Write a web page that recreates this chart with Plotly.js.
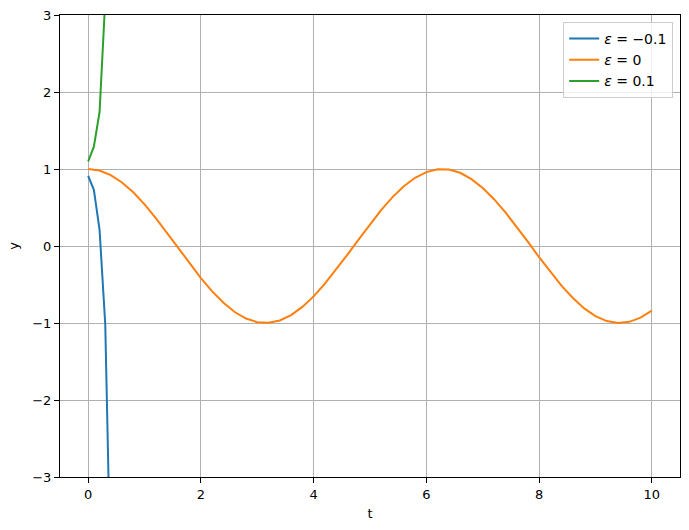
<!DOCTYPE html>
<html>
<head>
<meta charset="utf-8">
<script src="https://cdn.plot.ly/plotly-3.0.1.min.js"></script>
<style>html,body{margin:0;padding:0;background:#fff;}#plot{width:689px;height:530px;}</style>
</head>
<body>
<div id="plot"></div>
<script>
// Early time samples for the diverging solutions
const tShort = [0, 0.101, 0.202, 0.303, 0.404];
const yNeg = [0.91, 0.73, 0.21, -1.02, -4.5];
const yPos = [1.10, 1.29, 1.74, 3.2, 7.0];
// eps = 0 solution
const tMid = [0,0.2,0.4,0.6,0.8,1.0,1.2,1.4,1.6,1.8,2.0,2.2,2.4,2.6,2.8,3.0,3.2,3.4,3.6,3.8,4.0,4.2,4.4,4.6,4.8,5.0,5.2,5.4,5.6,5.8,6.0,6.2,6.4,6.6,6.8,7.0,7.2,7.4,7.6,7.8,8.0,8.2,8.4,8.6,8.8,9.0,9.2,9.4,9.6,9.8,10.0];
const yZero = [1.000,0.980,0.921,0.825,0.697,0.540,0.362,0.170,-0.029,-0.227,-0.416,-0.589,-0.737,-0.857,-0.942,-0.990,-0.998,-0.967,-0.897,-0.791,-0.654,-0.490,-0.307,-0.112,0.087,0.284,0.469,0.635,0.776,0.886,0.960,0.997,0.993,0.951,0.869,0.754,0.608,0.439,0.253,0.057,-0.146,-0.340,-0.519,-0.676,-0.811,-0.911,-0.975,-1.000,-0.985,-0.930,-0.839];
const names = ['<i>ε</i> = −0.1', '<i>ε</i> = 0', '<i>ε</i> = 0.1'];
const colors = ['#1f77b4', '#ff7f0e', '#2ca02c'];

const traces = [
  {x: tShort, y: yNeg, name: names[0], mode: 'lines', line: {color: colors[0], width: 2}},
  {x: tMid, y: yZero, name: names[1], mode: 'lines', line: {color: colors[1], width: 2}},
  {x: tShort, y: yPos, name: names[2], mode: 'lines', line: {color: colors[2], width: 2}}
];

const axisCommon = {
  showline: true, mirror: true, linecolor: '#000', linewidth: 1,
  ticks: 'outside', ticklen: 5, tickwidth: 1, tickcolor: '#000',
  showgrid: true, gridcolor: '#b0b0b0', gridwidth: 1,
  zeroline: false, tickfont: {size: 13, color: '#000'}
};

const layout = {
  width: 689, height: 530,
  margin: {l: 60, r: 9, t: 15, b: 53},
  paper_bgcolor: '#fff', plot_bgcolor: '#fff',
  font: {family: 'DejaVu Sans', size: 13, color: '#000'},
  xaxis: Object.assign({}, axisCommon, {
    range: [-0.5, 10.5], tickvals: [0, 2, 4, 6, 8, 10],
    title: {text: 't', font: {size: 13}, standoff: 8}
  }),
  yaxis: Object.assign({}, axisCommon, {
    range: [-3, 3], tickvals: [-3, -2, -1, 0, 1, 2, 3],
    ticktext: ['−3', '−2', '−1', '0', '1', '2', '3'],
    title: {text: 'y', font: {size: 13}, standoff: 10}
  }),
  showlegend: true,
  legend: {
    x: 0.989, y: 0.985, xanchor: 'right', yanchor: 'top',
    bgcolor: 'rgba(255,255,255,0.8)', bordercolor: '#cccccc', borderwidth: 1,
    font: {size: 14}, tracegroupgap: 0
  }
};

Plotly.newPlot('plot', traces, layout, {displayModeBar: false, staticPlot: true});
</script>
</body>
</html>
